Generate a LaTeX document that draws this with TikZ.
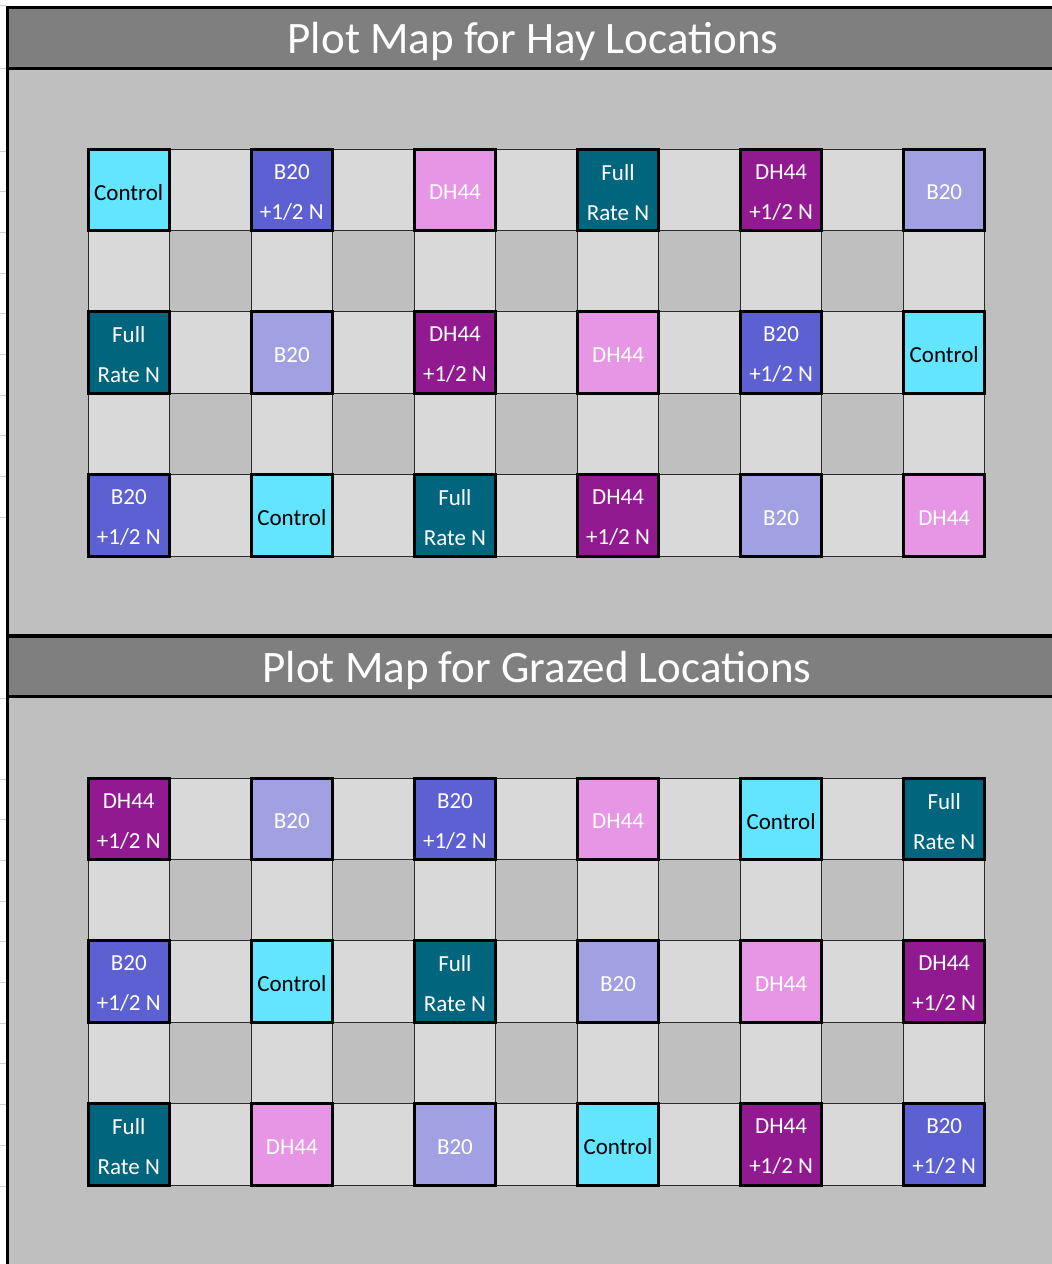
\documentclass[tikz,border=0pt]{standalone}
\usepackage{fontspec}
\setmainfont{Carlito}
\definecolor{hdr}{HTML}{7F7F7F}
\definecolor{panel}{HTML}{BFBFBF}
\definecolor{cellL}{HTML}{D9D9D9}
\definecolor{cellD}{HTML}{BFBFBF}
\definecolor{gline}{HTML}{2A2A2A}
\definecolor{tickc}{HTML}{D0D0D0}
\definecolor{cC}{HTML}{63E4FF}
\definecolor{cBH}{HTML}{5C60D0}
\definecolor{cB}{HTML}{A0A0E2}
\definecolor{cDH}{HTML}{E796E5}
\definecolor{cDHH}{HTML}{911A90}
\definecolor{cF}{HTML}{00657D}
\colorlet{tcC}{black}
\colorlet{tcBH}{white}
\colorlet{tcB}{white}
\colorlet{tcDH}{white}
\colorlet{tcDHH}{white}
\colorlet{tcF}{white}
\newcommand\lblC{Control}
\newcommand\lblBH{B20\\+1/2 N}
\newcommand\lblB{B20}
\newcommand\lblDH{DH44}
\newcommand\lblDHH{DH44\\+1/2 N}
\newcommand\lblF{Full\\Rate N}
\tikzset{
  cellbase/.style={minimum width=81.5pt, minimum height=81.4pt, inner sep=0pt, outer sep=0pt, anchor=north west},
  lt/.style={cellbase, draw=gline, line width=1pt, fill=cellL},
  dk/.style={cellbase, draw=gline, line width=1pt, fill=cellD},
  tr/.style={cellbase, draw=black, line width=3pt},
  trtext/.style={inner sep=0pt, font=\fontsize{23}{40}\selectfont, align=center, yshift=-2.5pt},
  ttl/.style={text=white, font=\fontsize{45}{54}\selectfont, anchor=base, inner sep=0pt},
  tickm/.style={draw=tickc, line width=1pt},
  blk/.style={draw=black, line width=3pt}
}
\begin{document}
\begin{tikzpicture}[x=1pt, y=-1pt]
\useasboundingbox (0,0) rectangle (1052,1264);
\fill[white] (0,0) rectangle (1052,1264);
% header 1 and panel 1
\fill[hdr] (9,9) rectangle (1052,67);
\fill[panel] (9,69) rectangle (1052,634);
% header 2 and panel 2
\fill[hdr] (9,638) rectangle (1052,695);
\fill[panel] (9,698) rectangle (1052,1264);
% black rules
\draw[blk] (6,7.5) -- (1052,7.5);
\draw[blk] (7.5,6) -- (7.5,1264);
\draw[draw=black, line width=3pt] (9,68) -- (1052,68);
\draw[draw=black, line width=4pt] (9,636) -- (1052,636);
\draw[draw=black, line width=3pt] (9,696.5) -- (1052,696.5);
% row ticks at left
\foreach \y in {5,68,698} \draw[tickm] (0,\y) -- (6,\y);
\foreach \k in {0,...,9} \draw[tickm] (0,{151+40.7*\k}) -- (6,{151+40.7*\k});
\foreach \k in {0,...,10} \draw[tickm] (0,{779+40.7*\k}) -- (6,{779+40.7*\k});
% titles
\node[ttl] (title1) at (533,53) {Plot Map for Hay Locations};
\node[ttl] (title2) at (537,682) {Plot Map for Grazed Locations};
% grids
\foreach \g/\yo in {h/149,g/778}{
  \foreach \r in {0,...,4}{
    \foreach \c in {0,...,10}{
      \pgfmathtruncatemacro\dd{(mod(\r,2)==1)&&(mod(\c,2)==1)}
      \ifnum\dd=1
        \node[dk] (\g-\r-\c) at ({88+81.545*\c},{\yo+81.4*\r}) {};
      \else
        \node[lt] (\g-\r-\c) at ({88+81.545*\c},{\yo+81.4*\r}) {};
      \fi
    }
  }
}
% hay treatments
\foreach \t [count=\i from 0] in {C,BH,DH,F,DHH,B,F,B,DHH,DH,BH,C,BH,C,F,DHH,B,DH}{
  \pgfmathtruncatemacro\rr{2*floor(\i/6)}
  \pgfmathtruncatemacro\cc{2*mod(\i,6)}
  \node[tr, fill=c\t] (ht\i) at ({88+81.545*\cc},{149+81.4*\rr}) {};
  \node[trtext, text=tc\t] (htl\i) at (ht\i.center) {\csname lbl\t\endcsname};
}
% grazed treatments
\foreach \t [count=\i from 0] in {DHH,B,BH,DH,C,F,BH,C,F,B,DH,DHH,F,DH,B,C,DHH,BH}{
  \pgfmathtruncatemacro\rr{2*floor(\i/6)}
  \pgfmathtruncatemacro\cc{2*mod(\i,6)}
  \node[tr, fill=c\t] (gt\i) at ({88+81.545*\cc},{778+81.4*\rr}) {};
  \node[trtext, text=tc\t] (gtl\i) at (gt\i.center) {\csname lbl\t\endcsname};
}
\end{tikzpicture}
\end{document}
